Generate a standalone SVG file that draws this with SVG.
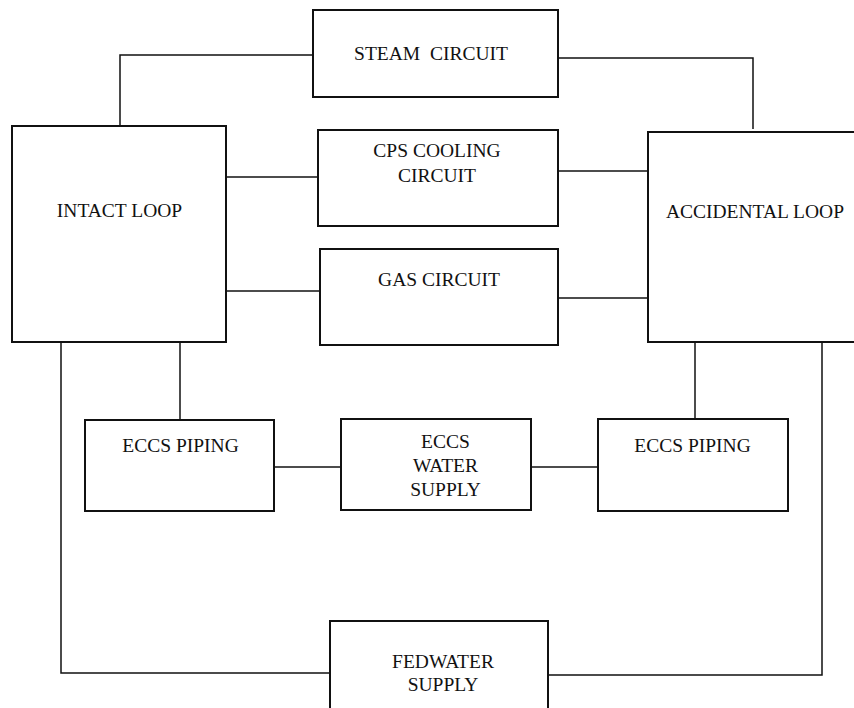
<svg xmlns="http://www.w3.org/2000/svg" width="854" height="708" viewBox="0 0 854 708">
<style>
.box{fill:#fff;stroke:#111;stroke-width:2}
.ln{fill:none;stroke:#111;stroke-width:1.5}
.t{font-family:"Liberation Serif","Times New Roman",serif;font-size:19.5px;fill:#111;text-anchor:middle}
</style>
<rect width="854" height="708" fill="#fff"/>
<g id="connectors">
<polyline class="ln" points="120,127 120,55 313,55"/>
<polyline class="ln" points="558,58 753,58 753,129"/>
<line class="ln" x1="226" y1="177" x2="318" y2="177"/>
<line class="ln" x1="558" y1="171" x2="651" y2="171"/>
<line class="ln" x1="226" y1="291" x2="320" y2="291"/>
<line class="ln" x1="558" y1="298" x2="651" y2="298"/>
<line class="ln" x1="180" y1="342" x2="180" y2="420"/>
<line class="ln" x1="274" y1="467" x2="341" y2="467"/>
<line class="ln" x1="531" y1="467" x2="598" y2="467"/>
<line class="ln" x1="695" y1="342" x2="695" y2="422"/>
<polyline class="ln" points="61,342 61,673 330,673"/>
<polyline class="ln" points="822,342 822,675 548,675"/>
</g>
<g id="steam">
<rect class="box" x="313" y="10" width="245" height="87"/>
<text class="t" x="431" y="60" xml:space="preserve">STEAM  CIRCUIT</text>
</g>
<g id="intact">
<rect class="box" x="12" y="126" width="214" height="216"/>
<text class="t" x="119.5" y="217">INTACT LOOP</text>
</g>
<g id="cps">
<rect class="box" x="318" y="130" width="240" height="96"/>
<text class="t" x="437" y="157">CPS COOLING</text>
<text class="t" x="437" y="182">CIRCUIT</text>
</g>
<g id="gas">
<rect class="box" x="320" y="249" width="238" height="96"/>
<text class="t" x="439" y="286">GAS CIRCUIT</text>
</g>
<g id="accidental">
<rect class="box" x="648" y="132" width="230" height="210"/>
<text class="t" x="755" y="218">ACCIDENTAL LOOP</text>
</g>
<g id="eccs-left">
<rect class="box" x="85" y="420" width="189" height="91"/>
<text class="t" x="180.5" y="452">ECCS PIPING</text>
</g>
<g id="water">
<rect class="box" x="341" y="419" width="190" height="91"/>
<text class="t" x="445.5" y="447.5">ECCS</text>
<text class="t" x="445.5" y="471.5">WATER</text>
<text class="t" x="445.5" y="495.5">SUPPLY</text>
</g>
<g id="eccs-right">
<rect class="box" x="598" y="419" width="190" height="92"/>
<text class="t" x="692.5" y="452">ECCS PIPING</text>
</g>
<g id="fedwater">
<rect class="box" x="330" y="621" width="218" height="100"/>
<text class="t" x="443" y="667.5">FEDWATER</text>
<text class="t" x="443" y="691">SUPPLY</text>
</g>
</svg>
